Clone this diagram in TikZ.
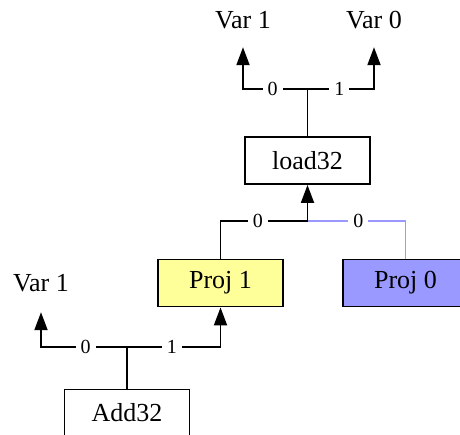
\documentclass[tikz,border=0pt]{standalone}
\usepackage{fontspec}
\setmainfont{Liberation Serif}
\usetikzlibrary{arrows.meta}
\definecolor{projyellow}{HTML}{FFFF99}
\definecolor{projblue}{HTML}{9999FF}
\tikzset{
  opbox/.style={draw, line width=1.9pt, minimum width=125pt, minimum height=47pt,
    inner sep=0pt, font=\fontsize{26}{26}\selectfont},
  vartext/.style={inner sep=0pt, font=\fontsize{26}{26}\selectfont},
  wire/.style={line width=1.9pt, black},
  arrowwire/.style={wire, -{Triangle[length=18pt,width=13pt]}},
  lbl/.style={fill=white, text=black, inner xsep=5pt, inner ysep=1pt, font=\fontsize{20}{20}\selectfont},
}
\begin{document}
\begin{tikzpicture}[x=1pt, y=-1pt]
  \clip (0,0) rectangle (460,434);
  \fill[white] (0,0) rectangle (460,434);

  % operation boxes
  \node[opbox] (load) at (307.5,160.5) {load32};
  \node[opbox, fill=projyellow] (p1) at (220.5,283) {Proj 1};
  \node[opbox, fill=projblue] (p0) at (405.5,283) {Proj 0};
  \node[opbox] (add) at (127,413) {Add32};

  % variable outputs (heights chosen so the south anchor meets the arrow tip)
  \node[vartext, minimum height=54pt] (v1a) at (243,20) {Var 1};
  \node[vartext, minimum height=54pt] (v0) at (374,20) {Var 0};
  \node[vartext, minimum height=58pt] (v1b) at (41,283) {Var 1};

  % branch points
  \coordinate (j1) at (307.5,89);
  \coordinate (j2) at (307.5,221);
  \coordinate (j3) at (127,347);

  % load32 outputs
  \draw[wire] (load.north) -- (j1);
  \draw[arrowwire] (j1) -| node[lbl, pos=0.27] {0} (v1a.south);
  \draw[arrowwire] (j1) -| node[lbl, pos=0.24] {1} (v0.south);

  % projections feeding load32
  \draw[wire, projblue] (p0.north) |- node[lbl, pos=0.74] {0} (j2);
  \draw[wire] (p1.north) |- node[lbl, pos=0.715] {0} (j2);
  \draw[arrowwire] (j2) -- (load.south);

  % Add32 outputs
  \draw[wire] (add.north) -- (j3);
  \draw[arrowwire] (j3) -| node[lbl, pos=0.24] {0} (v1b.south);
  \draw[arrowwire] (j3) -| node[lbl, pos=0.24] {1} (p1.south);
\end{tikzpicture}
\end{document}
